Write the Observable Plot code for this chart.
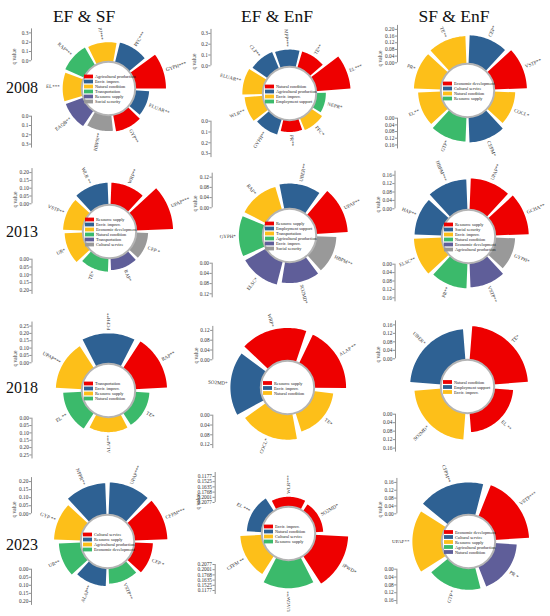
<!DOCTYPE html>
<html><head><meta charset="utf-8">
<script src="https://cdn.jsdelivr.net/npm/d3@7"></script>
<script src="https://cdn.jsdelivr.net/npm/@observablehq/plot@0.6"></script>
<style>
body{margin:0;background:#fff;}
#wrap{position:relative;width:550px;height:616px;overflow:hidden;font-family:"Liberation Serif","Times New Roman",serif;background:#fff;}
.panel{position:absolute;}
.title{position:absolute;transform:translate(-50%,-50%);font-size:17.5px;color:#111;white-space:nowrap;}
.row{position:absolute;transform:translate(0,-50%);font-size:16px;color:#111;}
</style></head><body><div id="wrap"></div>
<script>
const palette = ["#ee0000","#2e6193","#fdbf19","#3bba6b","#5f5e99","#999999"];
const columnTitles = ["EF & SF","EF & EnF","SF & EnF"];
const years = ["2008","2013","2018","2023"];

// 2008 EF & SF
const bars2008a = ["PJ***","PFC***","GYPH***","ELUAR**","GYP**","HBPN**","EAQB**","EL***","RAP***"];
const values2008a = [0.20,0.21,0.32,0.14,0.17,0.16,0.19,0.195,0.21];
const groups2008a = ["Natural condition","Envir. improv.","Agricultural production","Envir. improv.","Agricultural production","Social security","Resource supply","Natural condition","Transportation"];
const legend2008a = ["Agricultural production","Envir. improv.","Natural condition","Transportation","Resource supply","Social security"];
const ticks2008a = [0,0.1,0.2,0.3];

// 2008 EF & EnF
const bars2008b = ["MPP***","TE**","EL***","NEPR*","PFC*","PR**","GYPH**","WLR**","ELUAR**","CLP**"];
const values2008b = [0.15,0.15,0.31,0.08,0.11,0.10,0.14,0.16,0.18,0.16];
const groups2008b = ["Agricultural production","Natural condition","Natural condition","Employment support","Envir. improv.","Natural condition","Agricultural production","Envir. improv.","Envir. improv.","Agricultural production"];
const legend2008b = ["Natural condition","Agricultural production","Envir. improv.","Employment support"];
const ticks2008b = [0,0.1,0.2,0.3];

// 2008 SF & EnF
const bars2008c = ["CEP*","VSTP**","COCL*","CEPM*","GTP*","EL**","PR*","TE**"];
const values2008c = [0.165,0.19,0.12,0.145,0.14,0.13,0.155,0.16];
const groups2008c = ["Cultural service","Economic development","Natural condition","Cultural service","Resource supply","Natural condition","Natural condition","Natural condition"];
const legend2008c = ["Economic development","Cultural service","Natural condition","Resource supply"];
const ticksTop2008c = [0,0.04,0.08,0.12,0.16,0.20];
const ticks2008c = [0,0.04,0.08,0.12,0.16];

// 2013 EF & SF
const bars2013a = ["WLR **","WRP**","UPAP***","CEP *","RAP*","TE*","UR*","VSTP**"];
const values2013a = [0.135,0.135,0.23,0.07,0.07,0.08,0.11,0.12];
const groups2013a = ["Envir. improv.","Resource supply","Resource supply","Cultural service","Transportation","Natural condition","Economic development","Economic development"];
const legend2013a = ["Resource supply","Envir. improv.","Economic development","Natural condition","Transportation","Cultural service"];
const ticks2013a = [0,0.05,0.10,0.15,0.20];

// 2013 EF & EnF
const bars2013b = ["UBER**","UPAP**","HBPM**","SO2MD*","ELSC*","GYPH*","RAP*"];
const values2013b = [0.095,0.12,0.075,0.078,0.09,0.09,0.09];
const groups2013b = ["Employment support","Resource supply","Social security","Envir. improv.","Envir. improv.","Agricultural production","Transportation"];
const legend2013b = ["Resource supply","Employment support","Transportation","Agricultural production","Envir. improv.","Social security"];
const ticks2013b = [0,0.04,0.08,0.12];

// 2013 SF & EnF
const bars2013c = ["UPAP**","GCHA**","GYPH*","VSTP**","PR**","ELSC**","HAP**","HBPM***"];
const values2013c = [0.145,0.155,0.09,0.11,0.115,0.128,0.125,0.14];
const groups2013c = ["Resource supply","Resource supply","Agricultural production","Economic development","Natural condition","Envir. improv.","Social security","Social security"];
const legend2013c = ["Resource supply","Social security","Envir. improv.","Natural condition","Economic development","Agricultural production"];
const ticks2013c = [0,0.04,0.08,0.12,0.16];

// 2018 EF & SF
const bars2018a = ["FCPH**","RAP**","TE*","ALAP**","EL **","UPAP***"];
const values2018a = [0.20,0.21,0.09,0.095,0.12,0.17];
const groups2018a = ["Envir. improv.","Transportation","Natural condition","Resource supply","Natural condition","Resource supply"];
const legend2018a = ["Transportation","Envir. improv.","Resource supply","Natural condition"];
const ticks2018a = [0,0.05,0.10,0.15,0.20,0.25];

// 2018 EF & EnF
const bars2018b = ["WRP*","ALAP **","TE*","COCL*","SO2MD*"];
const values2018b = [0.13,0.126,0.075,0.10,0.12];
const groups2018b = ["Resource supply","Resource supply","Natural condition","Natural condition","Envir. improv."];
const legend2018b = ["Resource supply","Envir. improv.","Natural condition"];
const ticks2018b = [0,0.04,0.08,0.12];

// 2018 SF & EnF
const bars2018c = ["TE*","EL **","SO2MD*","UBER*"];
const values2018c = [0.155,0.085,0.12,0.14];
const groups2018c = ["Natural condition","Natural condition","Envir. improv.","Employment support"];
const legend2018c = ["Natural condition","Employment support","Envir. improv."];
const ticks2018c = [0,0.04,0.08,0.12,0.16];

// 2023 EF & SF
const bars2023a = ["UPAP***","CFPM***","CEP *","VSTP**","ALAP**","UR**","GYP **","NPPR**"];
const values2023a = [0.195,0.20,0.11,0.09,0.105,0.13,0.16,0.19];
const groups2023a = ["Resource supply","Cultural service","Cultural service","Economic development","Resource supply","Economic development","Agricultural production","Resource supply"];
const legend2023a = ["Cultural service","Resource supply","Agricultural production","Economic development"];
const ticks2023a = [0,0.05,0.10,0.15,0.20];

// 2023 EF & EnF
const bars2023b = ["WLR***","SO2MD*","IPWD*","UAGW**","CFPM **","EL ***"];
const values2023b = [0.1525,0.1177,0.2077,0.2001,0.1768,0.1635];
const groups2023b = ["Envir. improv.","Envir. improv.","Envir. improv.","Resource supply","Cultural service","Natural condition"];
const legend2023b = ["Envir. improv.","Natural condition","Cultural service","Resource supply"];
const ticks2023b = [0.2077,0.2001,0.1768,0.1635,0.1525,0.1177];

// 2023 SF & EnF
const bars2023c = ["CFPM**","VSTP***","PR *","GTP *","UPAP**"];
const values2023c = [0.16,0.168,0.105,0.105,0.145];
const groups2023c = ["Cultural service","Economic development","Natural condition","Agricultural production","Resource supply"];
const legend2023c = ["Economic development","Cultural service","Resource supply","Agricultural production","Natural condition"];
const ticks2023c = [0,0.04,0.08,0.12,0.16];

const R0 = 27.7;
const panels = [
  {labels:bars2008a, values:values2008a, groups:groups2008a, legend:legend2008a, ticksTop:ticks2008a, ticksBottom:ticks2008a, fmt:".1f", cx:108, cy:88, a0:-8, k:93, axisX:-77},
  {labels:bars2008b, values:values2008b, groups:groups2008b, legend:legend2008b, ticksTop:ticks2008b, ticksBottom:ticks2008b, fmt:".1f", cx:288.5, cy:93, a0:-3, k:108, axisX:-78.5},
  {labels:bars2008c, values:values2008c, groups:groups2008c, legend:legend2008c, ticksTop:ticksTop2008c, ticksBottom:ticks2008c, fmt:".2f", cx:467, cy:90, a0:22.5, k:167, axisX:-70},
  {labels:bars2013a, values:values2013a, groups:groups2013a, legend:legend2013a, ticksTop:ticks2013a, ticksBottom:ticks2013a, fmt:".2f", cx:108.5, cy:231, a0:-22.5, k:156, axisX:-77.5},
  {labels:bars2013b, values:values2013b, groups:groups2013b, legend:legend2013b, ticksTop:ticks2013b, ticksBottom:ticks2013b, fmt:".2f", cx:289, cy:234.5, a0:12, k:255, axisX:-77.3},
  {labels:bars2013c, values:values2013c, groups:groups2013c, legend:legend2013c, ticksTop:ticks2013c, ticksBottom:ticks2013c, fmt:".2f", cx:467.5, cy:235.5, a0:22.5, k:210, axisX:-73.5},
  {labels:bars2018a, values:values2018a, groups:groups2018a, legend:legend2018a, ticksTop:ticks2018a, ticksBottom:ticks2018a, fmt:".2f", cx:107.5, cy:389.5, a0:0, k:147, axisX:-76.5},
  {labels:bars2018b, values:values2018b, groups:groups2018b, legend:legend2018b, ticksTop:ticks2018b, ticksBottom:ticks2018b, fmt:".2f", cx:287, cy:386.5, a0:-14, k:245, axisX:-74.7},
  {labels:bars2018c, values:values2018c, groups:groups2018c, legend:legend2018c, ticksTop:ticks2018c, ticksBottom:ticks2018c, fmt:".2f", cx:467, cy:385.5, a0:45, k:212, axisX:-72},
  {labels:bars2023a, values:values2023a, groups:groups2023a, legend:legend2023a, ticksTop:ticks2023a, ticksBottom:ticks2023a, fmt:".2f", cx:107, cy:541, a0:22.5, k:161, axisX:-76},
  {labels:bars2023b, values:values2023b, groups:groups2023b, legend:legend2023b, ticksTop:ticks2023b, ticksBottom:ticks2023b, fmt:".4f", cx:288.3, cy:533, a0:0, axisX:-73.3,
    radial: d3.scaleLinear().domain([0.1177,0.1525,0.1635,0.1768,0.2001,0.2077]).range([R0+7,R0+9,R0+14,R0+20.5,R0+27,R0+32]),
    axisPos: d3.scalePoint().domain(ticks2023b).range([31,57])},
  {labels:bars2023c, values:values2023c, groups:groups2023c, legend:legend2023c, ticksTop:ticks2023c, ticksBottom:ticks2023c, fmt:".2f", cx:468.3, cy:540.5, a0:-18, k:196, axisX:-71.6}
];

const W = 190, H = 170, OX = 100, OY = 85;
const FONT = "Liberation Serif, Times New Roman, serif";
const toXY = (r, deg) => [r*Math.sin(deg*Math.PI/180), r*Math.cos(deg*Math.PI/180)];
const wrap = document.getElementById("wrap");

function makePanel(p) {
  const n = p.labels.length, slot = 360/n, gap = slot*0.1;
  const rad = p.radial || d3.scaleLinear().domain([0,1]).range([R0, R0 + p.k]);
  const axisPos = p.axisPos || rad;
  const pts = [];
  p.labels.forEach((lab, i) => {
    const c = p.a0 + i*slot, a1 = c - slot/2 + gap/2, a2 = c + slot/2 - gap/2;
    const r1 = rad(p.values[i]), r0 = R0 - 2;
    const steps = Math.max(10, Math.ceil((a2 - a1)/2));
    for (let s = 0; s <= steps; s++) { const [x,y] = toXY(r1, a1 + (a2-a1)*s/steps); pts.push({id:i, x, y, g:p.groups[i]}); }
    for (let s = steps; s >= 0; s--) { const [x,y] = toXY(r0, a1 + (a2-a1)*s/steps); pts.push({id:i, x, y, g:p.groups[i]}); }
  });
  const labs = p.labels.map((lab, i) => {
    let c = ((p.a0 + i*slot) % 360 + 360) % 360;
    const [x,y] = toXY(rad(p.values[i]) + 3, c);
    const right = c < 180;
    return {lab, x, y, rot: right ? c - 90 : c - 270, right};
  });
  const nL = p.legend.length, sp = 5;
  const leg = p.legend.map((d, i) => ({d, y: (nL-1)/2*sp - i*sp - 1}));
  const f = d3.format(p.fmt);
  const ax = p.axisX;
  const topT = p.ticksTop, botT = p.ticksBottom;
  const lastTop = axisPos(topT[topT.length-1]) + 4, lastBot = axisPos(botT[botT.length-1]) + 4;
  const marks = [
    Plot.line(pts, {x:"x", y:"y", z:"id", fill:"g", stroke:"none", curve:"linear-closed"}),
    Plot.dot([{x:0,y:0}], {x:"x", y:"y", r:R0-1, fill:"white", stroke:"#b4b4b4", strokeWidth:2}),
    Plot.rect(leg, {x1: () => -24, x2: () => -15, y1: d => d.y - 1.9, y2: d => d.y + 1.9, fill: d => d.d}),
    Plot.text(leg, {x: () => -13.5, y: "y", text: "d", textAnchor:"start", fontSize:4.3, fill:"#222", fontFamily:FONT}),
    Plot.text(labs.filter(d => d.right), {x:"x", y:"y", text:"lab", rotate:"rot", textAnchor:"start", fontSize:5, fill:"#333", fontFamily:FONT}),
    Plot.text(labs.filter(d => !d.right), {x:"x", y:"y", text:"lab", rotate:"rot", textAnchor:"end", fontSize:5, fill:"#333", fontFamily:FONT}),
    // upper axis
    Plot.ruleX([ax], {x: d => d, y1: () => axisPos(topT[0]), y2: () => lastTop, stroke:"#444", strokeWidth:0.6}),
    Plot.ruleY(topT, {y: d => axisPos(d), x1: () => ax - 2.2, x2: () => ax, stroke:"#444", strokeWidth:0.6}),
    Plot.text(topT, {y: d => axisPos(d), x: () => ax - 3.2, text: d => f(d), textAnchor:"end", fontSize:5.3, fill:"#333", fontFamily:FONT}),
    // lower axis
    Plot.ruleX([ax], {x: d => d, y1: () => -axisPos(botT[0]), y2: () => -lastBot, stroke:"#444", strokeWidth:0.6}),
    Plot.ruleY(botT, {y: d => -axisPos(d), x1: () => ax - 2.2, x2: () => ax, stroke:"#444", strokeWidth:0.6}),
    Plot.text(botT, {y: d => -axisPos(d), x: () => ax - 3.2, text: d => f(d), textAnchor:"end", fontSize:5.3, fill:"#333", fontFamily:FONT}),
    Plot.text(["q value"], {x: () => ax - 17, y: () => 32, text: d => d, rotate: -90, fontSize:5.5, fill:"#333", fontFamily:FONT})
  ];
  const svg = Plot.plot({
    width: W, height: H, margin: 0,
    x: {domain: [-OX, W - OX], axis: null},
    y: {domain: [-(H - OY), OY], axis: null},
    color: {domain: p.legend, range: palette.slice(0, p.legend.length)},
    style: {background: "transparent", overflow: "visible", fontFamily: FONT},
    marks
  });
  svg.classList.add("panel");
  svg.style.left = (p.cx - OX) + "px";
  svg.style.top = (p.cy - OY) + "px";
  wrap.appendChild(svg);
}
panels.forEach(makePanel);

const titleX = [84, 277, 454];
columnTitles.forEach((t, i) => {
  const d = document.createElement("div");
  d.className = "title"; d.textContent = t;
  d.style.left = titleX[i] + "px"; d.style.top = "16px";
  wrap.appendChild(d);
});
const rowY = [88, 232, 388, 545];
years.forEach((t, i) => {
  const d = document.createElement("div");
  d.className = "row"; d.textContent = t;
  d.style.left = "6px"; d.style.top = rowY[i] + "px";
  wrap.appendChild(d);
});
</script></body></html>
